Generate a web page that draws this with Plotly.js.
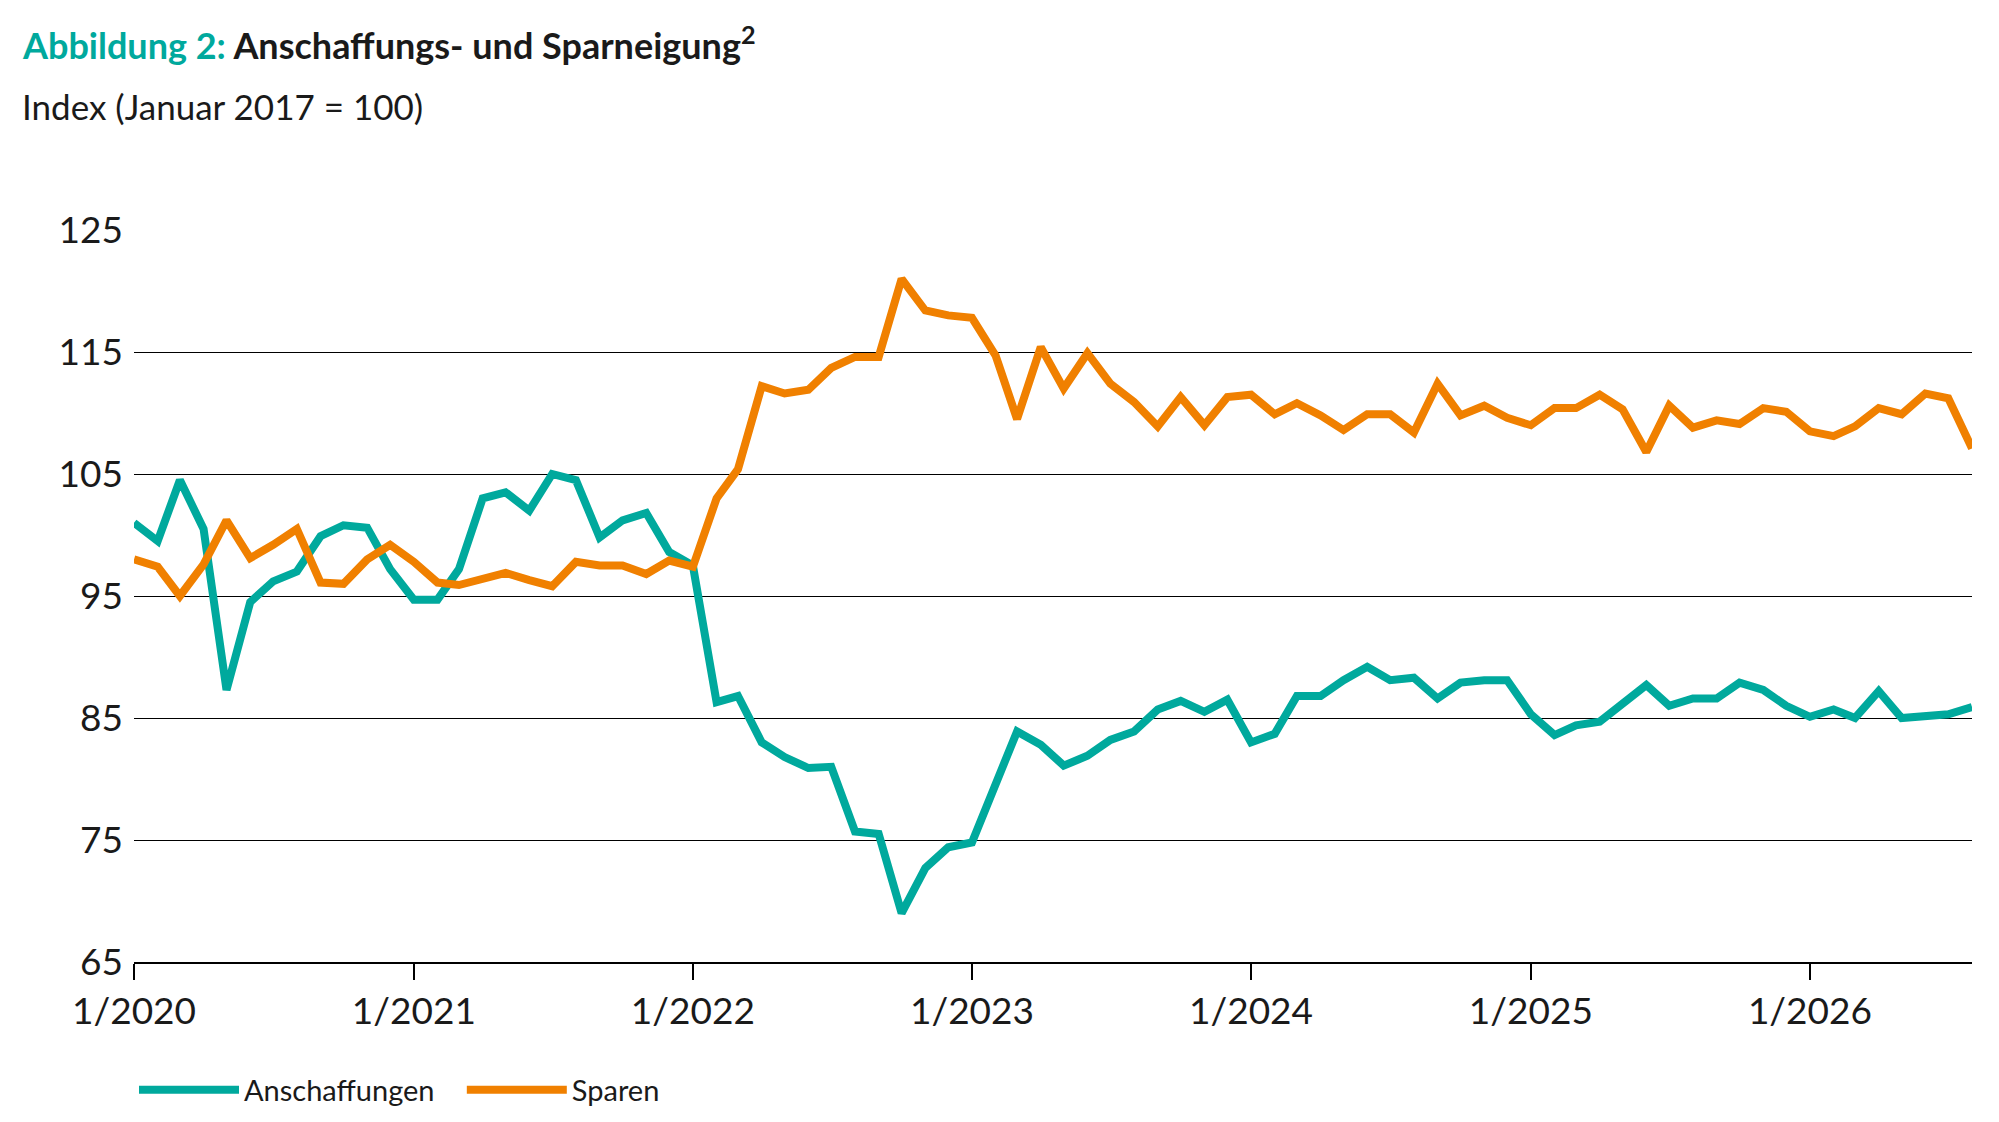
<script src="https://cdn.plot.ly/plotly-3.0.1.min.js"></script>
<div id="chart" style="width:1999px;height:1122px;"></div>
<script>
    // monthly, 1/2020 to 8/2026
    var anschaffungen = [101, 99.5, 104.5, 100.5, 87.3, 94.5, 96.2, 97, 99.9, 100.8, 100.6, 97.2,
        94.7, 94.7, 97.2, 103, 103.5, 102, 105, 104.5, 99.8, 101.2, 101.8, 98.6,
        97.5, 86.3, 86.8, 83, 81.8, 80.9, 81, 75.7, 75.5, 69, 72.7, 74.4,
        74.8, 79.6, 83.9, 82.8, 81.1, 81.9, 83.2, 83.9, 85.7, 86.4, 85.5, 86.5,
        83, 83.7, 86.8, 86.8, 88.1, 89.2, 88.1, 88.3, 86.6, 87.9, 88.1, 88.1,
        85.3, 83.6, 84.4, 84.7, 86.2, 87.7, 86, 86.6, 86.6, 87.9, 87.3, 86,
        85.1, 85.7, 85, 87.2, 85, 85.1, 85.3, 85.9];
    var sparen = [98, 97.4, 95, 97.6, 101.2, 98.1, 99.2, 100.5, 96.1, 96, 98, 99.2,
        97.8, 96.1, 95.9, 96.4, 96.9, 96.3, 95.8, 97.8, 97.5, 97.5, 96.8, 97.9,
        97.4, 103, 105.4, 112.2, 111.6, 111.9, 113.7, 114.6, 114.6, 121, 118.4, 118,
        117.8, 114.7, 109.5, 115.4, 112, 114.9, 112.4, 110.9, 108.9, 111.3, 109, 111.3,
        111.5, 109.9, 110.8, 109.8, 108.6, 109.9, 109.9, 108.4, 112.4, 109.8, 110.6, 109.6,
        109, 110.4, 110.4, 111.5, 110.3, 106.8, 110.6, 108.8, 109.4, 109.1, 110.4, 110.1,
        108.5, 108.1, 108.9, 110.4, 109.9, 111.6, 111.2, 107.1];

    var months = [];
    for (var i = 0; i < anschaffungen.length; i++) {
        var y = 2020 + Math.floor(i / 12), m = (i % 12) + 1;
        months.push(y + '-' + (m < 10 ? '0' + m : m) + '-01');
    }

    var font = 'Lato, "Open Sans", sans-serif';
    var trace1 = {
        x: months, y: anschaffungen, name: 'Anschaffungen   ', mode: 'lines',
        line: {color: '#00a99d', width: 8}
    };
    var trace2 = {
        x: months, y: sparen, name: 'Sparen', mode: 'lines',
        line: {color: '#f08000', width: 8}
    };
    var layout = {
        width: 1999, height: 1122,
        paper_bgcolor: 'white', plot_bgcolor: 'white',
        margin: {t: 222, l: 126, r: 35, b: 168},
        font: {family: font, size: 36, color: '#1a1a1a'},
        showlegend: true,
        legend: {orientation: 'h', x: 0, y: -0.14, xanchor: 'left', yanchor: 'top',
            font: {size: 29}, itemwidth: 100},
        xaxis: {
            type: 'date', range: [months[0], months[months.length - 1]],
            dtick: 'M12', tick0: '2020-01-01', tickformat: '%-m/%Y',
            showgrid: false, zeroline: false,
            showline: true, linecolor: '#000', linewidth: 1.5,
            ticks: 'outside', ticklen: 16, tickcolor: '#000', tickwidth: 1.5,
            tickfont: {size: 37}
        },
        yaxis: {
            range: [65, 125], tick0: 65, dtick: 10,
            showgrid: true, gridcolor: '#000', gridwidth: 1.2,
            zeroline: false, ticks: '', ticklabelstandoff: 10,
            tickfont: {size: 37}
        },
        annotations: [
            {xref: 'paper', yref: 'paper', x: -0.062, y: 1.255, xanchor: 'left', yanchor: 'middle',
                showarrow: false, font: {size: 36, family: font},
                text: '<b><span style="color:#00a99d">Abbildung 2:</span> Anschaffungs- und Sparneigung<sup>2</sup></b>'},
            {xref: 'paper', yref: 'paper', x: -0.062, y: 1.17, xanchor: 'left', yanchor: 'middle',
                showarrow: false, font: {size: 35, family: font},
                text: 'Index (Januar 2017 = 100)'}
        ]
    };
    Plotly.newPlot('chart', [trace1, trace2], layout, {displayModeBar: false});
</script>
